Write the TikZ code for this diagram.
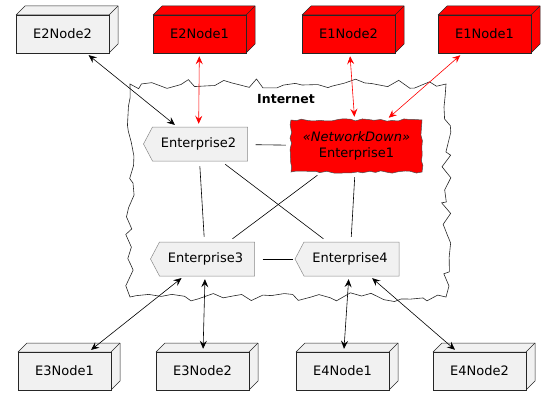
\documentclass[tikz,border=0pt]{standalone}
\usepackage{fontspec}
\setmainfont{DejaVu Sans}
\usetikzlibrary{arrows.meta}
\usetikzlibrary{decorations.pathmorphing}
\definecolor{nodegray}{HTML}{F1F1F1}
\definecolor{entgray}{HTML}{8A8A8A}
\definecolor{downred}{HTML}{FF0000}
\tikzset{
  devbox/.style={draw=black!85, line width=0.5pt, minimum width=93, minimum height=38, inner sep=0pt, font=\fontsize{13}{15}\selectfont},
  devline/.style={draw=black!85, line width=0.5pt, line join=round},
  entbox/.style={draw=none, minimum width=104, minimum height=34, inner sep=0pt, font=\fontsize{13}{15}\selectfont},
  entline/.style={draw=entgray, fill=nodegray, line width=0.5pt},
  downbox/.style={draw=black!70, fill=downred, line width=0.5pt, minimum width=131, minimum height=52, inner sep=0pt, align=center, font=\fontsize{13}{16}\selectfont, decorate, decoration={random steps, segment length=6, amplitude=1.2}},
  cloudline/.style={draw=black!85, line width=0.6pt, decorate, decoration={random steps, segment length=10, amplitude=5}},
  link/.style={black, line width=0.6pt, shorten >=5pt, shorten <=5pt},
  biarrow/.style={{Stealth[length=8pt, width=7pt, inset=3pt]}-{Stealth[length=8pt, width=7pt, inset=3pt]}, line width=0.6pt, shorten >=3pt, shorten <=3pt},
}
\newcommand{\devnode}[5]{\filldraw[devline, fill=#4] (#2-46.5,#3-19) -- ++(9,-9) -- ++(93,0) -- ++(0,38) -- ++(-9,9) -- ++(0,-38) -- cycle; \draw[devline] (#2+46.5,#3-19) -- ++(9,-9); \node[devbox, fill=#4] (#1) at (#2,#3) {#5};}
\newcommand{\entnode}[4]{\filldraw[entline] (#2-52,#3) -- (#2-43,#3-17) -- (#2+52,#3-17) -- (#2+52,#3+17) -- (#2-43,#3+17) -- cycle; \node[entbox] (#1) at (#2+3,#3) {#4};}

\begin{document}
\begin{tikzpicture}[x=1pt, y=-1pt]
        \pgfmathsetseed{11}
        \useasboundingbox (0,0) rectangle (556,404);
        \draw[cloudline] (130,84) rectangle (446,297);
        \node[font=\fontsize{12.5}{15}\selectfont\bfseries] (inet) at (286,99) {Internet};
        \devnode{e2n2}{62.5}{34}{nodegray}{E2Node2}
        \devnode{e2n1}{199.5}{34}{downred}{E2Node1}
        \devnode{e1n2}{348.5}{34}{downred}{E1Node2}
        \devnode{e1n1}{484.5}{34}{downred}{E1Node1}
        \entnode{e2}{195.5}{144}{Enterprise2}
        \node[downbox] (e1) at (356.5,146) {\textit{«NetworkDown»}\\Enterprise1};
        \entnode{e3}{202.5}{259}{Enterprise3}
        \entnode{e4}{347}{259}{Enterprise4}
        \devnode{e3n1}{64.5}{371}{nodegray}{E3Node1}
        \devnode{e3n2}{202.5}{371}{nodegray}{E3Node2}
        \devnode{e4n1}{342.5}{371}{nodegray}{E4Node1}
        \devnode{e4n2}{479.5}{371}{nodegray}{E4Node2}
        \draw[link] (e2) -- (e1);
        \draw[link] (e2) -- (e3);
        \draw[link] (e2) -- (e4);
        \draw[link] (e1) -- (e3);
        \draw[link] (e1) -- (e4);
        \draw[link] (e3) -- (e4);
        \draw[biarrow] (e2n2) -- (e2);
        \draw[biarrow, downred] (e2n1) -- (e2);
        \draw[biarrow, downred] (e1n2) -- (e1);
        \draw[biarrow, downred] (e1n1) -- (e1);
        \draw[biarrow] (e3) -- (e3n1);
        \draw[biarrow] (e3) -- (e3n2);
        \draw[biarrow] (e4) -- (e4n1);
        \draw[biarrow] (e4) -- (e4n2);
\end{tikzpicture}
\end{document}
